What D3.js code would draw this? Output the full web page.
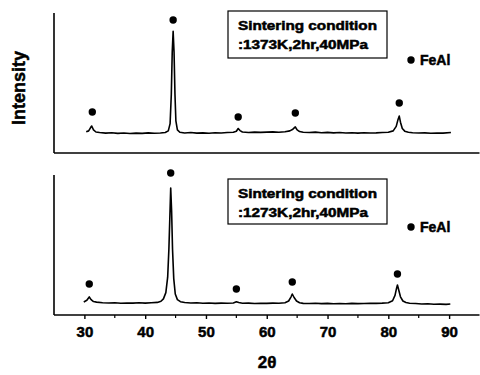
<!DOCTYPE html>
<html>
<head>
<meta charset="utf-8">
<script src="https://cdn.jsdelivr.net/npm/d3@7"></script>
<style>
  body { margin: 0; background: #fff; }
  svg { display: block; font-family: "Liberation Sans", Arial, sans-serif; }
  .heavy { stroke: #000; stroke-width: 0.5px; }
</style>
</head>
<body>
<div id="chart"></div>
<script>
// 2θ ticks shown on the bottom axis
const majorTicks = [30, 40, 50, 60, 70, 80, 90];
const minorTicks = [35, 45, 55, 65, 75, 85];

// top pattern: 1373K  [2θ, intensity (a.u.)]
const pattern1373 = [
  [30.3, 15.2], [30.7, 15.8], [31.0, 18.0], [31.2, 19.3], [31.5, 16.5], [31.9, 15.0],
  [32.5, 14.6], [33.5, 14.2], [34.5, 14.5], [35.5, 14.0], [36.5, 14.3], [37.5, 13.9],
  [38.5, 14.2], [39.5, 14.0], [40.5, 14.4], [41.5, 14.1], [42.5, 14.3], [43.3, 14.6],
  [43.8, 15.8], [44.1, 21], [44.3, 42], [44.45, 72], [44.6, 87], [44.75, 72],
  [44.9, 42], [45.05, 23], [45.3, 16.5], [45.7, 14.8], [46.5, 14.3], [47.5, 14.6],
  [48.5, 14.2], [49.5, 14.4], [50.5, 14.1], [51.5, 14.5], [52.5, 14.3], [53.5, 14.6],
  [54.5, 14.8], [55.0, 15.5], [55.3, 17.5], [55.6, 16.0], [56.0, 15.0], [57, 14.6],
  [58, 14.9], [59, 14.7], [60, 14.9], [61, 15.1], [62, 14.8], [63, 15.2],
  [63.8, 15.8], [64.3, 17], [64.7, 18.6], [65.0, 16.5], [65.4, 15.3], [66, 14.8],
  [67, 14.6], [68, 14.9], [69, 14.5], [70, 14.7], [71, 14.4], [72, 14.6],
  [73, 14.3], [74, 14.5], [75, 14.2], [76, 14.5], [77, 14.3], [78, 14.4],
  [79, 14.6], [80, 14.8], [80.8, 15.8], [81.3, 19], [81.6, 24], [81.8, 26.4],
  [82.0, 22], [82.3, 17.5], [82.7, 15.6], [83.3, 14.8], [84, 14.5], [85, 14.3],
  [86, 14.4], [87, 14.1], [88, 14.3], [89, 14.2], [90.3, 14.6]
];

// bottom pattern: 1273K
const pattern1273 = [
  [29.9, 9.3], [30.4, 10.5], [30.8, 12.9], [31.1, 11.0], [31.5, 9.6], [32, 9.2],
  [33, 8.8], [34, 8.6], [35, 8.7], [36, 8.4], [37, 8.6], [38, 8.5],
  [39, 8.7], [40, 8.5], [41, 8.8], [42, 9.0], [42.6, 9.8], [43.0, 11.5],
  [43.4, 16], [43.7, 27], [43.9, 47], [44.1, 76], [44.2, 90.7], [44.35, 74],
  [44.5, 47], [44.7, 26], [44.95, 15], [45.3, 11], [45.8, 9.5], [46.5, 8.9],
  [47.5, 8.6], [48.5, 8.7], [49.5, 8.4], [50.5, 8.6], [51.5, 8.3], [52.5, 8.5],
  [53.5, 8.4], [54.5, 8.6], [55.0, 9.4], [55.4, 8.9], [56, 8.4], [57, 8.5],
  [58, 8.2], [59, 8.4], [60, 8.3], [61, 8.5], [62, 8.4], [63, 8.8],
  [63.6, 10], [64.0, 13], [64.2, 15], [64.5, 12.5], [64.9, 10], [65.4, 8.8],
  [66, 8.3], [67, 8.2], [68, 8.4], [69, 8.1], [70, 8.3], [71, 8.0],
  [72, 8.2], [73, 8.0], [74, 8.3], [75, 8.1], [76, 8.2], [77, 8.4],
  [78, 8.3], [79, 8.5], [80, 8.8], [80.7, 10.2], [81.1, 14], [81.35, 19],
  [81.5, 21.4], [81.7, 18], [82.0, 13], [82.4, 10], [82.9, 8.9], [83.5, 8.4],
  [84.5, 8.2], [85.5, 7.9], [86.5, 8.0], [87.5, 7.7], [88.5, 7.8], [89.5, 7.6],
  [90.2, 7.9]
];

// FeAl peak markers [2θ, intensity]
const marks1373 = [[31.3, 29.3], [44.6, 95], [55.3, 25.7], [64.7, 28.6], [81.8, 35.7]];
const marks1273 = [[30.8, 22.1], [44.2, 101.4], [55.0, 18.6], [64.2, 23.6], [81.5, 29.3]];

const conditions = [["Sintering condition", ":1373K,2hr,40MPa"], ["Sintering condition", ":1273K,2hr,40MPa"]];

const width = 480, height = 375;
const svg = d3.select("#chart").append("svg")
  .attr("width", width).attr("height", height);

const x = d3.scaleLinear().domain([25, 95]).range([54, 479.5]);

const panels = [
  { top: 13, data: pattern1373, marks: marks1373, cond: conditions[0] },
  { top: 175, data: pattern1273, marks: marks1273, cond: conditions[1] }
];
const panelH = 140;

panels.forEach((p, i) => {
  const y = d3.scaleLinear().domain([0, 100]).range([p.top + panelH, p.top]);
  const g = svg.append("g");

  // axes frame (left + bottom)
  g.append("line").attr("x1", 54).attr("x2", 54)
    .attr("y1", p.top).attr("y2", p.top + panelH)
    .attr("stroke", "#000").attr("stroke-width", 1.6);
  g.append("line").attr("x1", 54).attr("x2", 479.5)
    .attr("y1", p.top + panelH).attr("y2", p.top + panelH)
    .attr("stroke", "#000").attr("stroke-width", 1.6);

  // pattern
  g.append("path").datum(p.data)
    .attr("fill", "none").attr("stroke", "#000").attr("stroke-width", 1.6)
    .attr("stroke-linejoin", "round")
    .attr("d", d3.line().x(d => x(d[0])).y(d => y(d[1])));

  // peak dots
  g.selectAll(".pk").data(p.marks).enter().append("circle")
    .attr("cx", d => x(d[0])).attr("cy", d => y(d[1])).attr("r", 3.7)
    .attr("fill", "#000");

  // condition box
  const bx = 228, by = i === 0 ? 11 : 179, bw = 159, bh = i === 0 ? 47 : 45;
  g.append("rect").attr("x", bx).attr("y", by).attr("width", bw).attr("height", bh)
    .attr("fill", "#fff").attr("stroke", "#000").attr("stroke-width", 1.2);
  g.append("text").attr("class", "heavy").attr("x", 238).attr("y", by + 19)
    .attr("font-size", 12).attr("font-weight", "bold")
    .attr("textLength", 139).attr("lengthAdjust", "spacingAndGlyphs")
    .text(p.cond[0]);
  g.append("text").attr("class", "heavy").attr("x", 238).attr("y", by + 38)
    .attr("font-size", 12).attr("font-weight", "bold")
    .attr("textLength", 130).attr("lengthAdjust", "spacingAndGlyphs")
    .text(p.cond[1]);

  // legend
  const ly = i === 0 ? 60 : 227;
  g.append("circle").attr("cx", 411).attr("cy", ly).attr("r", 3.7).attr("fill", "#000");
  g.append("text").attr("class", "heavy").attr("x", 420).attr("y", ly + 5)
    .attr("font-size", 14).attr("font-weight", "bold").text("FeAl");
});

// bottom 2θ axis ticks and labels
const axisY = 175 + panelH;
const xAxis = d3.axisBottom(x).tickValues(majorTicks).tickSize(4).tickSizeOuter(0);
const ax = svg.append("g").attr("transform", `translate(0,${axisY})`).call(xAxis);
ax.select(".domain").remove();
ax.selectAll(".tick line").attr("stroke-width", 1.4);
ax.selectAll(".tick text")
  .attr("class", "heavy")
  .attr("font-family", "Liberation Sans, Arial, sans-serif")
  .attr("font-size", 15).attr("font-weight", "bold").attr("fill", "#000")
  .attr("dy", null).attr("y", 22);

svg.append("g").selectAll("line").data(minorTicks).enter().append("line")
  .attr("x1", d => x(d)).attr("x2", d => x(d))
  .attr("y1", axisY).attr("y2", axisY + 3)
  .attr("stroke", "#000").attr("stroke-width", 1.2);

svg.append("text").attr("class", "heavy").attr("x", 267).attr("y", 368)
  .attr("text-anchor", "middle").attr("font-size", 17).attr("font-weight", "bold")
  .text("2θ");

svg.append("text").attr("class", "heavy")
  .attr("transform", "translate(25,88) rotate(-90)")
  .attr("text-anchor", "middle").attr("font-size", 18).attr("font-weight", "bold")
  .text("Intensity");
</script>
</body>
</html>
